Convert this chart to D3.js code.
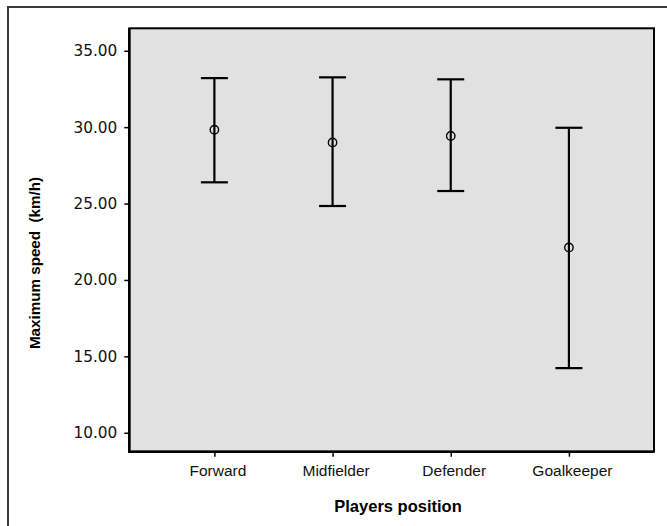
<!DOCTYPE html>
<html>
<head>
<meta charset="utf-8">
<script src="https://cdn.jsdelivr.net/npm/d3@7"></script>
<style>
  html, body { margin: 0; padding: 0; background: #fff; }
  svg { display: block; }
</style>
</head>
<body>
<svg id="chart" width="667" height="526"></svg>
<script>
// ---- data ----
const categories = ["Forward", "Midfielder", "Defender", "Goalkeeper"];
const means = [29.83, 29.00, 29.42, 22.13];
const upper = [33.21, 33.26, 33.13, 29.96];
const lower = [26.39, 24.84, 25.82, 14.23];
const yTicks = [10, 15, 20, 25, 30, 35];
const xTitle = "Players position";
const yTitle = "Maximum speed  (km/h)";

const svg = d3.select("#chart");
const plot = { left: 129.3, right: 654, top: 28.3, bottom: 451.7 };

const y = d3.scaleLinear().domain([8.76, 36.47]).range([plot.bottom, plot.top]);
const x = d3.scalePoint().domain(categories).range([plot.left, plot.right]).padding(0.72);

// outer frame
svg.append("rect")
  .attr("x", 8).attr("y", 7).attr("width", 700).attr("height", 560)
  .attr("fill", "none").attr("stroke", "#3a3a3a").attr("stroke-width", 2);

// plot background
svg.append("rect")
  .attr("x", plot.left).attr("y", plot.top)
  .attr("width", plot.right - plot.left).attr("height", plot.bottom - plot.top)
  .attr("fill", "#e1e1e1").attr("stroke", "#000").attr("stroke-width", 2);

// y axis
const yAxis = d3.axisLeft(y).tickValues(yTicks).tickFormat(d3.format(".2f")).tickSizeInner(5).tickSizeOuter(0).tickPadding(7);
const gy = svg.append("g").attr("transform", `translate(${plot.left},0)`).call(yAxis);
gy.select(".domain").remove();
gy.selectAll(".tick line").attr("stroke", "#000").attr("stroke-width", 1.5);
gy.selectAll(".tick text").attr("font-family", "DejaVu Sans").attr("font-size", "15.3px").attr("fill", "#111");

// x axis
const xAxis = d3.axisBottom(x).tickSizeInner(5).tickSizeOuter(0).tickPadding(8);
const gx = svg.append("g").attr("transform", `translate(0,${plot.bottom})`).call(xAxis);
gx.select(".domain").remove();
gx.selectAll(".tick line").attr("stroke", "#000").attr("stroke-width", 1.5);
gx.selectAll(".tick text").attr("font-family", "Liberation Sans").attr("font-size", "15.5px").attr("fill", "#111").attr("dx", 3);

// redraw axis lines on top (left/bottom)
svg.append("line").attr("x1", plot.left).attr("x2", plot.left).attr("y1", plot.top).attr("y2", plot.bottom + 1)
  .attr("stroke", "#000").attr("stroke-width", 2.5);
svg.append("line").attr("x1", plot.left - 1).attr("x2", plot.right).attr("y1", plot.bottom).attr("y2", plot.bottom)
  .attr("stroke", "#000").attr("stroke-width", 2.5);

// error bars
const data = categories.map((c, i) => ({ c, m: means[i], hi: upper[i], lo: lower[i] }));
const capHalf = 13.5;
const g = svg.append("g");
g.selectAll(".vline").data(data).join("line")
  .attr("x1", d => x(d.c)).attr("x2", d => x(d.c))
  .attr("y1", d => y(d.hi)).attr("y2", d => y(d.lo))
  .attr("stroke", "#000").attr("stroke-width", 2.2);
g.selectAll(".capHi").data(data).join("line")
  .attr("x1", d => x(d.c) - capHalf).attr("x2", d => x(d.c) + capHalf)
  .attr("y1", d => y(d.hi)).attr("y2", d => y(d.hi))
  .attr("stroke", "#000").attr("stroke-width", 2.2);
g.selectAll(".capLo").data(data).join("line")
  .attr("x1", d => x(d.c) - capHalf).attr("x2", d => x(d.c) + capHalf)
  .attr("y1", d => y(d.lo)).attr("y2", d => y(d.lo))
  .attr("stroke", "#000").attr("stroke-width", 2.2);
g.selectAll(".mean").data(data).join("circle")
  .attr("cx", d => x(d.c)).attr("cy", d => y(d.m)).attr("r", 4.2)
  .attr("fill", "none").attr("stroke", "#000").attr("stroke-width", 1.4);

// titles
svg.append("text")
  .attr("x", 398).attr("y", 511.5).attr("text-anchor", "middle")
  .attr("font-family", "Liberation Sans").attr("font-weight", "bold").attr("font-size", "16.5px").attr("fill", "#000")
  .text(xTitle);
svg.append("text")
  .attr("transform", "translate(40,263) rotate(-90)").attr("text-anchor", "middle")
  .attr("font-family", "Liberation Sans").attr("font-weight", "bold").attr("font-size", "15.2px").attr("fill", "#000")
  .style("white-space", "pre")
  .text(yTitle);
</script>
</body>
</html>
